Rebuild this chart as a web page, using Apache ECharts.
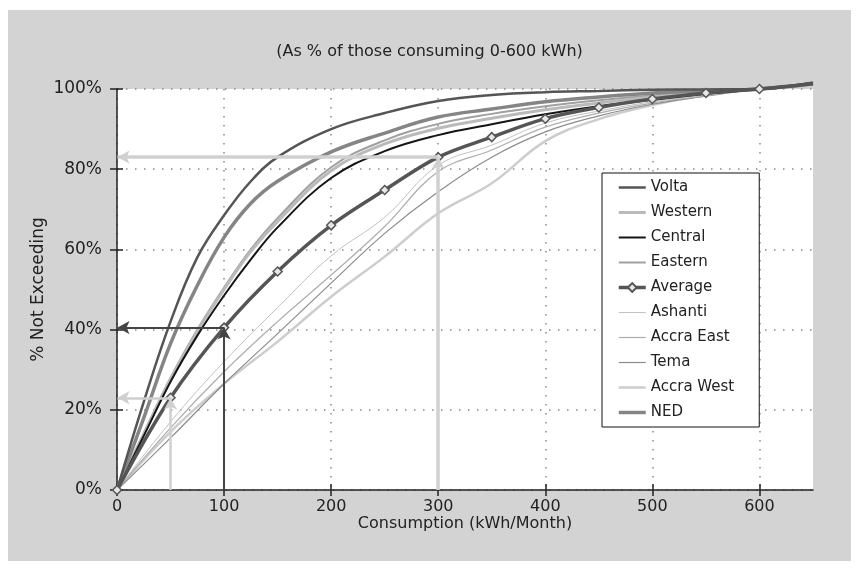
<!DOCTYPE html>
<html>
<head>
<meta charset="utf-8">
<script src="https://cdn.jsdelivr.net/npm/echarts@6/dist/echarts.min.js"></script>
<style>
html,body{margin:0;padding:0;background:#fff;}
#chart{width:859px;height:570px;}
</style>
</head>
<body>
<div id="chart"></div>
<script>
// ---- data ----
const xFine = [0,25,50,75,100,125,150,200,250,300,350,400,450,500,550,600,650];
const xCoarse = [0,50,100,150,200,250,300,350,400,450,500,550,600,650];

const volta   = [0,22,42,58,68.5,77,83,90,94,97,98.5,99.2,99.5,99.8,99.9,100,101.6];
const western = [0,14,27.5,39.5,50,59.5,67,79.6,86.3,90.2,92.7,94.8,96.5,98,99.1,100,101.2];
const central = [0,13.5,27,38.5,48.5,57.5,65.5,77.8,84.5,88.5,91.2,93.7,95.7,97.3,98.8,100,101.5];
const eastern = [0,14.2,28,40,50.5,60,67.8,80.5,87.2,91.3,93.8,95.7,97.2,98.4,99.3,100,101.2];
const ned     = [0,18,36.5,51,63,71.5,77,84.3,89,93,95,96.8,98,99,99.6,100,101.3];

const average   = [0,23,40.5,54.5,66,74.8,83,88,92.6,95.4,97.5,99,100,101.3];
const ashanti   = [0,17,32,45.5,58.4,68,81,86,91.5,94.5,96.8,98.5,100,101];
const accraEast = [0,15.5,29.5,42,53.6,65.7,79.4,84.8,90.5,94,96.5,98.3,100,101];
const tema      = [0,13,26.5,39,51.6,64,74.4,83,89.3,93.3,96.2,98.2,100,101];
const accraWest = [0,14.5,26.5,37,48.2,58.2,69,76.5,87,92.5,96,98.5,100,100.8];

// guide arrows: consumption -> % not exceeding
const arrowX = [50,100,300];
const arrowY = [23,40.5,83];

const xTicks = [0,100,200,300,400,500,600];
const yTicks = [0,20,40,60,80,100];
const legendOrder = ['Volta','Western','Central','Eastern','Average','Ashanti','Accra East','Tema','Accra West','NED'];

// ---- chart ----
const FONT = 'DejaVu Sans';
const pairs = (xs, ys) => xs.map((x,i)=>[x, ys[i]]);
const styles = {
  'Volta':['#555555',2.5], 'Western':['#bababa',3], 'Central':['#151515',2],
  'Eastern':['#a0a0a0',2], 'Average':['#555555',3.5], 'Ashanti':['#c2c2c2',1],
  'Accra East':['#adadad',1.2], 'Tema':['#8c8c8c',1.2], 'Accra West':['#cdcdcd',2.5],
  'NED':['#858585',3.5]
};

function lineSeries(name, xs, ys, z){
  const [color, width] = styles[name];
  return {
    name, type:'line', data: pairs(xs, ys),
    smooth: 0.4,
    showSymbol: false, symbol: 'none',
    clip: false, z: z,
    lineStyle: {color, width},
    itemStyle: {color},
    emphasis: {disabled: true}
  };
}

const avgSeries = {
  name:'Average', type:'line',
  data: pairs(xCoarse, average).map((p,i)=> i===xCoarse.length-1 ? {value:p, symbol:'none'} : p),
  smooth: 0.35, clip:false, z: 10,
  symbol:'diamond', symbolSize: 9, showSymbol: true,
  lineStyle:{color:'#555', width:3.5},
  itemStyle:{color:'#e6e6e6', borderColor:'#555', borderWidth:1.5},
  emphasis:{disabled:true}
};

const arrowStyles = [
  {color:'#cfcfcf', width:2.5},
  {color:'#444444', width:2},
  {color:'#d0d0d0', width:3.5}
];
const markData = [];
arrowX.forEach((x,i)=>{
  const ls = arrowStyles[i];
  markData.push([{coord:[x,0], lineStyle:ls},{coord:[x,arrowY[i]]}]);
  markData.push([{coord:[x,arrowY[i]], lineStyle:ls},{coord:[0.5,arrowY[i]]}]);
});
const arrowSeries = {
  type:'line', data:[], z: 20,
  markLine:{
    silent:true, symbol:['none','arrow'], symbolSize:[10,12],
    label:{show:false}, animation:false, z: 20,
    lineStyle:{type:'solid'},
    data: markData
  }
};

const series = [
  lineSeries('Accra West', xCoarse, accraWest, 2),
  lineSeries('Tema', xCoarse, tema, 3),
  lineSeries('Accra East', xCoarse, accraEast, 3),
  lineSeries('Ashanti', xCoarse, ashanti, 3),
  lineSeries('Eastern', xFine, eastern, 4),
  lineSeries('Western', xFine, western, 5),
  lineSeries('Central', xFine, central, 6),
  lineSeries('NED', xFine, ned, 7),
  lineSeries('Volta', xFine, volta, 8),
  avgSeries,
  arrowSeries
];

const legendData = legendOrder.map(n => {
  const [color, width] = styles[n];
  const item = {name:n, lineStyle:{color, width}};
  if (n !== 'Average') item.itemStyle = {opacity:0};
  return item;
});

const chart = echarts.init(document.getElementById('chart'), null, {renderer:'canvas'});
chart.setOption({
  animation:false,
  backgroundColor:'#ffffff',
  textStyle:{fontFamily:FONT},
  graphic:[{type:'rect', shape:{x:8,y:10,width:843,height:551}, style:{fill:'#d3d3d3'}, z:-10, silent:true}],
  title:{
    text:'(As % of those consuming 0-600 kWh)', left:'center', top:39,
    textStyle:{fontFamily:FONT, fontSize:16, fontWeight:'normal', color:'#222'}
  },
  legend:{
    data: legendData, orient:'vertical', left:602, top:173,
    backgroundColor:'#fff', borderColor:'#111', borderWidth:1,
    padding:[7,25,7,15], itemGap:10, itemWidth:27, itemHeight:11,
    textStyle:{fontFamily:FONT, fontSize:15, color:'#222', lineHeight:15},
    selectedMode:false
  },
  grid:{left:117, right:46, top:89, bottom:80, show:true, backgroundColor:'#fff', borderWidth:0},
  xAxis:[{
    type:'value', min:0, max:650, interval:100,
    name:'Consumption (kWh/Month)', nameLocation:'middle', nameGap:26, nameMoveOverlap:false,
    nameTextStyle:{fontFamily:FONT, fontSize:16, color:'#222'},
    axisLine:{show:true, lineStyle:{color:'#222', width:1.5}},
    axisTick:{show:true, length:6, customValues:xTicks, lineStyle:{color:'#222', width:1.5}},
    axisLabel:{customValues:xTicks, fontFamily:FONT, fontSize:16, color:'#222', margin:9},
    splitLine:{show:true, lineStyle:{color:'#8a8a8a', width:1.5, type:[1.5,7.5]}}
  },{
    type:'value', min:0, max:650, interval:100, position:'bottom',
    axisLine:{show:false},
    axisTick:{show:true, inside:true, length:6, customValues:xTicks, lineStyle:{color:'#222', width:1.5}},
    axisLabel:{show:false}, splitLine:{show:false}
  }],
  yAxis:[{
    type:'value', min:0, max:100, interval:20,
    name:'% Not Exceeding', nameLocation:'middle', nameGap:70, nameRotate:90, nameMoveOverlap:false,
    nameTextStyle:{fontFamily:FONT, fontSize:17, color:'#222'},
    axisLine:{show:true, lineStyle:{color:'#222', width:1.5}},
    axisTick:{show:true, length:7, lineStyle:{color:'#222', width:1.5}},
    axisLabel:{fontFamily:FONT, fontSize:17, color:'#222', margin:15, formatter:v=>v+'%'},
    splitLine:{show:true, lineStyle:{color:'#8a8a8a', width:1.5, type:[1.5,7.5]}}
  },{
    type:'value', min:0, max:100, interval:20, position:'left',
    axisLine:{show:false},
    axisTick:{show:true, inside:true, length:6, lineStyle:{color:'#222', width:1.5}},
    axisLabel:{show:false}, splitLine:{show:false}
  }],
  series: series
});
</script>
</body>
</html>
